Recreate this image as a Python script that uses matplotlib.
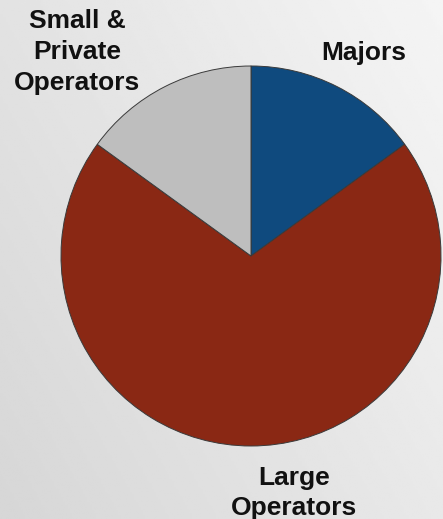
import numpy as np
import matplotlib.pyplot as plt

plt.rcParams['font.family'] = ['Liberation Sans', 'DejaVu Sans']

# Market share by operator type
labels = ["Majors", "Large\nOperators", "Small &\nPrivate\nOperators"]
shares = [15, 70, 15]
colors = ["#0f4a7e", "#8a2814", "#bebebe"]

W, H = 443, 519
fig = plt.figure(figsize=(W / 100, H / 100), dpi=100)
ax = fig.add_axes([0, 0, 1, 1])

# brushed-metal style background: darker on the left, lighter top right
gx = np.linspace(0, 1, 200)
gy = np.linspace(0, 1, 200)
GX, GY = np.meshgrid(gx, gy)
bg = 0.84 + 0.12 * (0.6 * GX + 0.4 * GY)
ax.imshow(bg, extent=[0, W, 0, H], origin='lower', cmap='gray',
          vmin=0, vmax=1, zorder=0, aspect='auto')

wedges, _ = ax.pie(shares, colors=colors, startangle=90, counterclock=False,
                   center=(251, H - 256), radius=190, frame=True,
                   wedgeprops=dict(edgecolor='#3a3a3a', linewidth=0.7))
for w in wedges:
    w.set_zorder(2)
ax.set_xlim(0, W)
ax.set_ylim(0, H)
ax.set_aspect('equal')
ax.axis('off')

txt = dict(fontsize=19, fontweight='bold', color='#111111',
           ha='center', va='center', linespacing=1.35, zorder=3)
ax.text(364, H - 53, labels[0], **txt)
ax.text(294, H - 493, labels[1], **txt)
ax.text(77, H - 52, labels[2], **txt)

plt.savefig("out.png", dpi=100)
